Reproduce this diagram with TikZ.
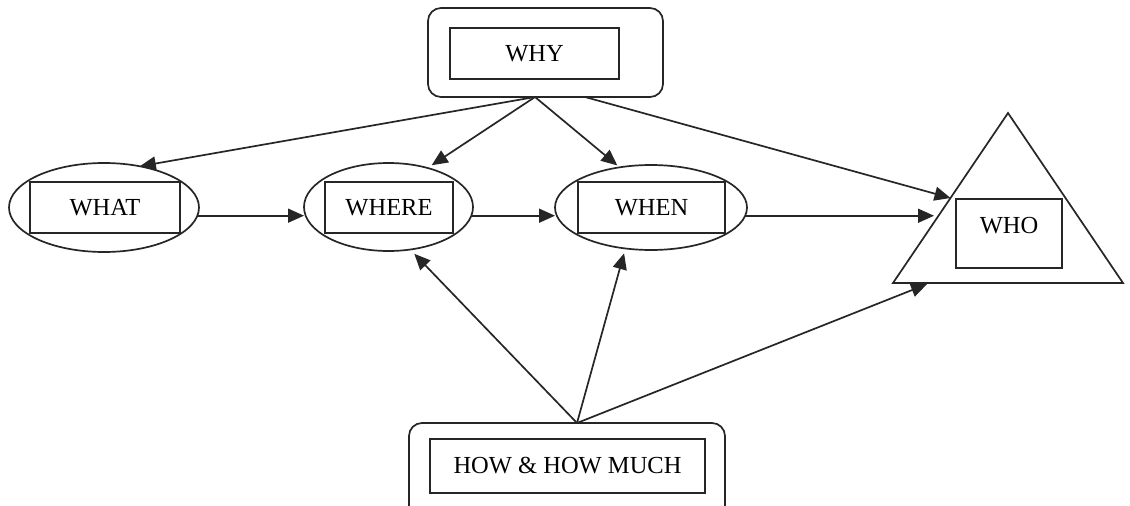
\documentclass[tikz,border=0pt]{standalone}
\usepackage{fontspec}
\setmainfont{Liberation Serif}
\usetikzlibrary{shapes.geometric,arrows.meta,calc}
\tikzset{
  ln/.style={draw=black!85, line width=1.7pt},
  outerbox/.style={ln, rectangle, rounded corners=13pt, inner sep=0pt, outer sep=0pt},
  innerbox/.style={ln, rectangle, inner sep=0pt, outer sep=0pt, font=\fontsize{24.5}{28}\selectfont},
  ell/.style={ln, ellipse, inner sep=0pt, outer sep=0pt},
  arr/.style={ln, -{Triangle[length=16pt,width=14pt]}},
  lbl/.style={font=\fontsize{24.5}{28}\selectfont, inner sep=0pt},
}
\begin{document}
\begin{tikzpicture}[x=1pt,y=-1pt]
\useasboundingbox (0,0) rectangle (1130,506);
\clip (0,0) rectangle (1130,506);
\fill[white] (0,0) rectangle (1130,506);

% WHY
\node[outerbox, minimum width=235pt, minimum height=89pt] (why) at (545.5,52.5) {};
\node[innerbox, minimum width=169pt, minimum height=51pt] (whyin) at (534.5,53.5) {WHY};
\coordinate (whyout) at (535,97);
\coordinate (whyout2) at (585,97);

% WHAT / WHERE / WHEN
\node[ell, minimum width=190pt, minimum height=89pt] (whatell) at (104,207.5) {};
\node[innerbox, minimum width=150pt, minimum height=51pt] (whatin) at (105,207.5) {WHAT};
\node[ell, minimum width=169pt, minimum height=88pt] (whereell) at (388.5,207) {};
\node[innerbox, minimum width=128pt, minimum height=51pt] (wherein) at (389,207.5) {WHERE};
\node[ell, minimum width=192pt, minimum height=85pt] (whenell) at (651,207.5) {};
\node[innerbox, minimum width=147pt, minimum height=51pt] (whenin) at (651.5,207.5) {WHEN};

% WHO
\coordinate (whoA) at (1008,113);
\coordinate (whoL) at (893,283);
\coordinate (whoR) at (1123,283);
\draw[ln, line join=miter] (whoA) -- (whoL) -- (whoR) -- cycle;
\node[innerbox, minimum width=106pt, minimum height=69pt] (whoin) at (1009,233.5) {};
\node[lbl] (wholbl) at (1009,226) {WHO};
\coordinate (whoT1) at ($(whoA)!0.5!(whoL)$);
\coordinate (whoT2) at ($(whoA)!0.6!(whoL)$);
\coordinate (whoT3) at ($(whoL)!0.16!(whoR)$);

% HOW
\node[outerbox, minimum width=316pt, minimum height=110pt] (how) at (567,478) {};
\node[innerbox, minimum width=275pt, minimum height=54pt] (howin) at (567.5,466) {HOW \& HOW MUCH};
\coordinate (howout) at (577,423);

% arrows from WHY
\draw[arr] (whyout) -- (whatell.49);
\draw[arr, shorten >=5pt] (whyout) -- (whereell.45);
\draw[arr, shorten >=3pt] (whyout) -- (whenell.128);
\draw[arr] (whyout2) -- (whoT1);

% horizontal arrows
\draw[arr] (whatell.-5) -- (whatell.-5 -| whereell.west);
\draw[arr] (whereell.-6) -- (whereell.-6 -| whenell.west);
\draw[arr, shorten >=5pt] (whenell.-5) -- (whenell.-5 -| whoT2);

% arrows from HOW
\draw[arr, shorten >=6pt] (howout) -- (whereell.-63);
\draw[arr, shorten >=5pt] (howout) -- (whenell.-122);
\draw[arr, shorten >=3pt] (howout) -- (whoT3);
\end{tikzpicture}
\end{document}
